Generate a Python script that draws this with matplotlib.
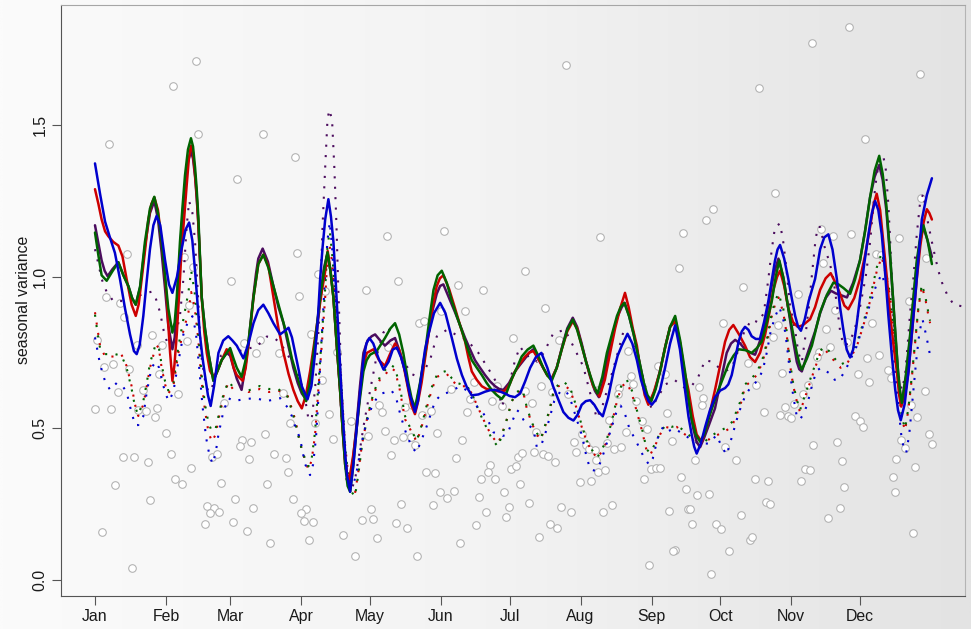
import numpy as np
import matplotlib
matplotlib.use("Agg")
import matplotlib.pyplot as plt
from matplotlib.colors import LinearSegmentedColormap

plt.rcParams['font.family'] = ['Liberation Sans', 'DejaVu Sans']

# ---------------------------------------------------------------- axis labels
MONTH_LABELS = ["Jan", "Feb", "Mar", "Apr", "May", "Jun",
                "Jul", "Aug", "Sep", "Oct", "Nov", "Dec"]
MONTH_START = [0, 31, 59, 90, 120, 151, 181, 212, 243, 273, 304, 334]
Y_TICKS = [0.0, 0.5, 1.0, 1.5]
Y_LABEL = "seasonal variance"

# ---------------------------------------------------------------- daily observations
OBS_DAY = [
    44.1, 34.1, 6.0, 45.1, 13.8, 39.0, 42.9, 41.1, 4.9, 10.9, 12.8, 0.7, 25.0, 40.3, 29.4,
    18.5, 3.9, 8.0, 14.8, 27.9, 10.0, 20.8, 36.1, 0.0, 7.0, 18.9, 22.3, 27.1, 26.1, 56.2,
    31.0, 33.0, 51.1, 53.3, 12.1, 17.0, 23.0, 42.1, 35.0, 38.0, 55.0, 8.9, 24.0, 49.1,
    52.1, 50.2, 54.2, 48.1, 2.9, 16.0,
    73.2, 87.3, 62.2, 88.2, 59.4, 89.2, 118.3, 97.2, 100.4, 94.2, 65.2, 72.2, 70.2, 80.2,
    105.8, 99.3, 82.2, 85.3, 96.2, 102.3, 74.2, 111.6, 104.1, 119.3, 64.2, 68.1, 63.2,
    78.2, 83.3, 67.2, 84.2, 75.1, 61.1, 69.1, 86.3, 92.2, 90.1, 91.3, 95.2, 60.3, 66.2,
    76.3, 93.3, 108.3, 120.4, 116.5, 121.2, 113.4, 123.3,
    152.4, 127.4, 132.3, 158.5, 169.4, 187.8, 141.3, 143.5, 161.4, 151.1, 182.4, 127.8,
    124.0, 125.3, 155.5, 165.5, 163.8, 162.5, 175.7, 173.5, 177.7, 146.7, 142.6, 135.2,
    138.4, 126.5, 130.6, 134.5, 138.0, 139.5, 149.3, 160.4, 129.4, 157.5, 144.4, 148.4,
    172.5, 171.5, 174.6, 168.6, 150.6, 153.6, 156.6, 147.4, 167.7, 178.5, 181.5, 183.7,
    184.6, 186.5, 185.5, 133.5, 170.6, 180.6, 179.5, 131.3, 136.4, 166.4, 159.5, 140.5,
    205.5, 220.7, 196.5, 202.8, 232.7, 245.7, 249.0, 194.6, 187.8, 190.7, 199.7, 206.7,
    219.4, 229.0, 234.0, 235.1, 228.2, 224.4, 236.2, 238.7, 240.9, 192.4, 209.0, 212.8,
    209.8, 214.4, 215.6, 218.1, 218.9, 223.4, 226.8, 229.7, 231.9, 191.7, 195.5, 197.8,
    200.7, 239.6, 242.8, 244.9, 246.9, 219.6, 222.7, 211.7, 216.6, 189.5, 203.6, 207.7,
    221.7, 225.8, 198.5, 201.6, 193.7, 241.8,
    313.0, 289.9, 296.9, 269.9, 266.8, 256.9, 254.9, 282.8, 307.1, 274.0, 298.1, 295.9,
    263.9, 265.6, 264.9, 285.1, 288.7, 299.8, 249.9, 292.2, 299.0, 301.3, 302.6, 304.0,
    305.3, 309.2, 311.2, 251.8, 275.2, 279.8, 313.7, 261.9, 255.8, 258.0, 262.9, 268.0,
    288.1, 294.0, 308.2, 310.2, 312.0, 292.8, 294.9, 250.8, 259.0, 259.8, 281.9, 260.8,
    271.1, 273.2, 286.0, 287.0, 253.4, 252.5, 277.0, 269.0,
    329.1, 360.1, 336.1, 360.8, 351.1, 330.0, 317.0, 322.3, 362.9, 341.1, 343.1, 318.0,
    323.1, 355.3, 319.1, 339.1, 328.2, 321.1, 316.0, 315.1, 342.2, 337.2, 333.3, 338.0,
    346.2, 347.4, 362.3, 356.1, 359.1, 331.9, 333.9, 335.2, 364.2, 365.4, 324.1, 352.1,
    353.7, 349.9, 326.2, 358.1, 348.2, 349.2, 327.2, 325.3, 320.2, 357.1,
]
OBS_VAL = [
    1.711, 1.628, 1.437, 1.472, 1.076, 1.064, 1.032, 0.908, 0.932, 0.914, 0.868, 0.792, 0.808, 0.788, 0.776,
    0.776, 0.704, 0.712, 0.697, 0.680, 0.621, 0.627, 0.615, 0.565, 0.564, 0.562, 0.556, 0.568, 0.537, 0.584,
    0.484, 0.417, 0.407, 0.417, 0.407, 0.406, 0.388, 0.368, 0.334, 0.317, 0.319, 0.314, 0.264, 0.245,
    0.236, 0.222, 0.224, 0.185, 0.158, 0.041,
    1.472, 1.394, 1.323, 1.078, 0.987, 0.938, 0.955, 1.010, 0.953, 0.810, 0.783, 0.792, 0.749, 0.749,
    0.752, 0.658, 0.617, 0.517, 0.517, 0.548, 0.480, 0.526, 0.466, 0.474, 0.462, 0.456, 0.441,
    0.417, 0.404, 0.399, 0.356, 0.318, 0.267, 0.239, 0.267, 0.233, 0.220, 0.196, 0.190, 0.192, 0.162,
    0.123, 0.133, 0.148, 0.233, 0.197, 0.200, 0.080, 0.139,
    1.152, 1.135, 0.986, 0.973, 0.958, 1.020, 0.847, 0.853, 0.888, 0.887, 0.798, 0.767,
    0.578, 0.554, 0.630, 0.654, 0.598, 0.554, 0.639, 0.590, 0.573, 0.556, 0.544, 0.570,
    0.576, 0.493, 0.462, 0.470, 0.473, 0.444, 0.485, 0.462, 0.413, 0.401, 0.356, 0.352,
    0.380, 0.356, 0.334, 0.333, 0.289, 0.272, 0.295, 0.246, 0.274, 0.289, 0.365, 0.377,
    0.405, 0.420, 0.316, 0.252, 0.225, 0.241, 0.209, 0.189, 0.173, 0.183, 0.122, 0.080,
    1.697, 1.132, 0.897, 0.793, 0.756, 0.705, 0.680, 0.639, 0.623, 0.584, 0.621, 0.612,
    0.627, 0.633, 0.673, 0.645, 0.612, 0.529, 0.590, 0.523, 0.499, 0.487, 0.455, 0.480,
    0.423, 0.444, 0.432, 0.429, 0.395, 0.452, 0.432, 0.438, 0.489, 0.422, 0.417, 0.410,
    0.389, 0.334, 0.365, 0.371, 0.371, 0.356, 0.363, 0.322, 0.325, 0.253, 0.241, 0.225,
    0.223, 0.246, 0.184, 0.172, 0.142, 0.051,
    1.771, 1.622, 1.275, 1.225, 1.187, 1.146, 1.030, 0.968, 0.942, 0.849, 0.841, 0.800,
    0.636, 0.600, 0.576, 0.716, 0.642, 0.684, 0.550, 0.554, 0.544, 0.572, 0.542, 0.535,
    0.581, 0.612, 0.642, 0.458, 0.440, 0.397, 0.446, 0.395, 0.341, 0.300, 0.279, 0.285,
    0.334, 0.325, 0.328, 0.367, 0.362, 0.258, 0.251, 0.228, 0.234, 0.234, 0.216, 0.184,
    0.186, 0.167, 0.132, 0.141, 0.100, 0.096, 0.096, 0.019,
    1.824, 1.670, 1.455, 1.261, 1.128, 1.140, 1.157, 1.135, 1.063, 1.076, 1.073, 1.045,
    0.892, 0.920, 0.827, 0.849, 0.786, 0.767, 0.753, 0.734, 0.741, 0.733, 0.680, 0.654,
    0.692, 0.666, 0.625, 0.578, 0.539, 0.540, 0.523, 0.505, 0.482, 0.449, 0.456, 0.461,
    0.435, 0.400, 0.391, 0.374, 0.339, 0.291, 0.306, 0.236, 0.203, 0.156,
]

# ---------------------------------------------------------------- smooth estimates (solid)
BLUE_DAY = [0, 2.2, 4.4, 6.6, 8.7, 10.9, 13.1, 15.3, 17.0, 18.2, 19.5, 21.1, 22.5, 24.0, 25.5,
            26.9, 28.5, 30.6, 32.3, 33.8, 35.8, 37.8, 39.5, 41.1, 42.5, 43.7, 44.8, 45.8, 47.0,
            48.0, 49.3, 50.5, 52.0, 53.9, 56.0, 58.2, 60.0, 61.9, 64.8, 67.0, 69.2, 71.3, 73.5,
            75.7, 77.9, 80.8, 82.6, 84.5, 86.0, 87.4, 89.0, 90.3, 92.8, 94.5, 96.1, 97.3, 98.3,
            99.4, 100.5, 101.9, 103.0, 104.1, 105.2, 106.3, 107.4, 108.5, 109.3, 110.0, 111.4,
            112.8, 114.3, 115.7, 117.2, 118.5, 119.8, 121.5, 123.8, 126.0, 128.2, 130.0, 131.8,
            133.6, 135.4, 137.5, 139.7, 141.0, 142.6, 144.1, 145.6, 148.0, 150.7, 153.0, 155.8,
            158.0, 160.2, 162.4, 164.5, 167.4, 170.3, 172.5, 174.7, 177.0, 179.0, 181.0, 183.4,
            185.6, 187.8, 190.0, 192.5, 194.9, 197.5, 200.0, 202.3, 204.5, 206.7, 208.9, 210.7,
            212.5, 214.3, 216.2, 218.0, 219.8, 221.7, 224.0, 226.4, 228.2, 230.0, 232.5, 234.6,
            236.6, 238.4, 240.2, 241.7, 243.1, 244.9, 246.7, 248.9, 251.1, 253.3, 255.4, 257.6,
            259.1, 260.5, 261.6, 262.7, 264.5, 266.4, 268.5, 270.7, 273.0, 275.1, 276.5, 278.0,
            279.5, 281.0, 282.4, 283.8, 285.3, 286.7, 288.5, 290.3, 292.1, 294.0, 295.5, 296.9,
            298.0, 299.1, 300.9, 302.7, 304.2, 305.7, 307.0, 308.2, 309.9, 311.6, 314.4, 316.6,
            318.4, 320.2, 322.0, 323.9, 325.3, 326.8, 328.2, 329.7, 331.0, 332.5, 334.0, 335.8,
            337.7, 339.2, 340.6, 342.0, 343.5, 345.0, 346.4, 347.9, 349.4, 350.6, 351.8, 353.5,
            355.2, 356.6, 358.1, 359.5, 361.0, 363.2, 365.4]
BLUE_VAL = [1.374, 1.274, 1.182, 1.128, 1.079, 0.993, 0.896, 0.810, 0.755, 0.745, 0.775, 0.871,
            0.980, 1.091, 1.170, 1.201, 1.170, 1.054, 0.975, 0.947, 1.000, 1.091, 1.155, 1.179,
            1.120, 1.018, 0.910, 0.810, 0.730, 0.676, 0.610, 0.574, 0.640, 0.749, 0.790, 0.804,
            0.790, 0.773, 0.731, 0.780, 0.847, 0.890, 0.908, 0.880, 0.847, 0.810, 0.820, 0.832,
            0.800, 0.749, 0.690, 0.639, 0.596, 0.640, 0.749, 0.860, 0.993, 1.100, 1.189, 1.256,
            1.200, 1.116, 0.970, 0.810, 0.650, 0.505, 0.410, 0.346, 0.291, 0.380, 0.505, 0.620,
            0.725, 0.780, 0.798, 0.780, 0.731, 0.694, 0.720, 0.760, 0.767, 0.735, 0.688, 0.610,
            0.554, 0.590, 0.680, 0.760, 0.810, 0.880, 0.914, 0.880, 0.798, 0.730, 0.676, 0.635,
            0.609, 0.612, 0.621, 0.626, 0.627, 0.621, 0.615, 0.607, 0.603, 0.615, 0.655, 0.700,
            0.735, 0.749, 0.700, 0.639, 0.595, 0.554, 0.535, 0.526, 0.545, 0.578, 0.590, 0.593,
            0.578, 0.555, 0.540, 0.600, 0.688, 0.740, 0.773, 0.812, 0.780, 0.725, 0.660, 0.615,
            0.590, 0.578, 0.595, 0.627, 0.700, 0.780, 0.840, 0.760, 0.627, 0.540, 0.480, 0.440,
            0.417, 0.450, 0.505, 0.560, 0.603, 0.625, 0.633, 0.645, 0.676, 0.730, 0.786, 0.820,
            0.835, 0.825, 0.804, 0.795, 0.795, 0.850, 0.920, 0.990, 1.054, 1.090, 1.105, 1.060,
            0.993, 0.930, 0.871, 0.835, 0.822, 0.860, 0.920, 0.993, 1.091, 1.130, 1.140, 1.090,
            0.993, 0.900, 0.822, 0.760, 0.734, 0.760, 0.840, 0.932, 1.040, 1.140, 1.210, 1.250,
            1.220, 1.140, 1.010, 0.871, 0.740, 0.627, 0.560, 0.527, 0.580, 0.688, 0.810, 0.932,
            1.060, 1.189, 1.270, 1.325]

RED_DAY = [0, 1.5, 2.9, 4.4, 5.8, 8.0, 10.2, 12.0, 13.8, 16.0, 17.8, 19.1, 20.4, 21.9, 23.3,
           24.6, 25.9, 27.5, 29.1, 30.2, 31.3, 32.1, 32.8, 33.8, 34.7, 35.7, 36.8, 37.8, 39.0,
           40.0, 41.0, 41.9, 42.8, 43.7, 44.4, 45.1, 45.9, 46.6, 47.7, 48.8, 50.2, 51.7, 53.5,
           55.3, 57.5, 59.0, 60.5, 61.9, 64.5, 65.8, 67.0, 68.1, 69.2, 70.3, 71.3, 73.5, 75.7,
           77.9, 80.1, 82.3, 84.5, 86.6, 88.5, 90.3, 92.1, 93.9, 95.7, 97.5, 99.0, 100.5, 101.6,
           102.8, 104.1, 105.5, 107.0, 108.1, 109.2, 110.2, 111.1, 112.7, 114.3, 115.4, 116.5,
           117.6, 118.7, 121.6, 124.0, 126.6, 128.8, 131.0, 132.8, 134.6, 136.8, 138.2, 139.7,
           141.1, 142.6, 144.1, 145.6, 147.4, 149.2, 150.6, 152.1, 154.6, 157.2, 159.4, 161.6,
           163.0, 164.5, 166.7, 168.9, 171.0, 173.2, 175.4, 177.6, 179.0, 181.0, 183.4, 185.6,
           187.8, 189.6, 191.4, 193.5, 195.7, 197.5, 199.4, 201.6, 203.8, 206.2, 208.6, 210.5,
           212.6, 214.7, 217.5, 220.3, 222.6, 224.9, 227.1, 229.3, 231.4, 233.0, 234.8, 236.6,
           238.3, 240.0, 241.6, 244.0, 246.7, 249.0, 251.1, 253.3, 255.5, 257.3, 259.1, 261.0,
           262.7, 264.9, 266.8, 268.7, 270.7, 273.0, 275.1, 276.9, 278.7, 281.2, 283.8, 286.0,
           288.2, 290.4, 292.6, 294.4, 296.2, 297.8, 299.1, 300.9, 302.7, 304.8, 306.8, 309.0,
           312.2, 314.4, 316.6, 319.0, 321.2, 323.3, 325.3, 327.2, 328.9, 331.5, 334.0, 336.2,
           338.4, 340.0, 341.3, 342.8, 344.2, 345.7, 347.2, 348.7, 350.1, 351.1, 352.0, 353.6,
           355.2, 357.0, 358.8, 360.3, 361.8, 363.2, 364.3, 365.4]
RED_VAL = [1.289, 1.240, 1.189, 1.150, 1.134, 1.115, 1.103, 1.067, 0.993, 0.908, 0.871, 0.910,
           0.993, 1.090, 1.189, 1.240, 1.262, 1.220, 1.115, 1.030, 0.932, 0.830, 0.749, 0.657,
           0.710, 0.810, 0.950, 1.091, 1.200, 1.299, 1.390, 1.433, 1.410, 1.335, 1.270, 1.176,
           1.050, 0.932, 0.820, 0.749, 0.690, 0.670, 0.690, 0.725, 0.761, 0.749, 0.700, 0.676,
           0.657, 0.700, 0.773, 0.850, 0.932, 0.990, 1.042, 1.073, 1.036, 0.932, 0.830, 0.749,
           0.680, 0.627, 0.590, 0.566, 0.610, 0.688, 0.780, 0.871, 0.950, 1.018, 1.085, 1.020,
           0.932, 0.780, 0.627, 0.500, 0.382, 0.345, 0.334, 0.410, 0.505, 0.590, 0.676, 0.720,
           0.749, 0.761, 0.725, 0.706, 0.745, 0.780, 0.760, 0.712, 0.627, 0.575, 0.547, 0.590,
           0.651, 0.730, 0.810, 0.900, 0.969, 0.995, 1.005, 0.960, 0.896, 0.840, 0.786, 0.735,
           0.688, 0.660, 0.639, 0.630, 0.627, 0.623, 0.621, 0.625, 0.645, 0.688, 0.715, 0.737,
           0.750, 0.755, 0.730, 0.700, 0.675, 0.664, 0.700, 0.761, 0.820, 0.853, 0.830, 0.770,
           0.712, 0.640, 0.605, 0.660, 0.749, 0.830, 0.896, 0.947, 0.900, 0.830, 0.773, 0.680,
           0.610, 0.578, 0.620, 0.688, 0.770, 0.835, 0.853, 0.780, 0.690, 0.627, 0.540, 0.480,
           0.456, 0.500, 0.560, 0.627, 0.710, 0.786, 0.825, 0.841, 0.810, 0.773, 0.735, 0.719,
           0.750, 0.810, 0.880, 0.957, 1.000, 1.020, 0.970, 0.896, 0.850, 0.835, 0.840, 0.860,
           0.900, 0.957, 0.995, 1.012, 0.980, 0.944, 0.905, 0.893, 0.930, 0.993, 1.070, 1.164,
           1.240, 1.274, 1.220, 1.115, 1.000, 0.871, 0.770, 0.688, 0.610, 0.572, 0.610, 0.688,
           0.840, 0.993, 1.100, 1.180, 1.223, 1.210, 1.189]

GREEN_DAY = [0, 1.5, 2.9, 5.1, 7.6, 10.2, 12.4, 14.6, 16.2, 17.8, 19.7, 21.8, 24.0, 25.9, 27.5,
             29.1, 30.6, 32.0, 33.8, 34.8, 35.7, 37.1, 38.2, 39.3, 40.6, 41.9, 42.8, 43.7, 44.4,
             45.1, 45.9, 46.6, 48.0, 49.5, 51.7, 53.5, 55.3, 57.5, 59.0, 60.5, 61.9, 64.0, 65.6,
             67.0, 68.1, 69.2, 70.3, 71.3, 73.5, 75.7, 77.9, 80.8, 83.7, 86.0, 88.1, 90.2, 92.2,
             93.8, 95.4, 96.9, 98.3, 100.0, 101.5, 102.8, 104.1, 105.5, 107.0, 108.1, 109.2, 110.3,
             111.4, 112.8, 114.3, 115.7, 117.2, 118.6, 120.1, 123.0, 126.6, 129.0, 131.0, 132.8,
             134.6, 136.8, 138.2, 139.7, 141.9, 144.1, 146.0, 147.8, 149.6, 151.4, 153.6, 155.8,
             158.0, 160.2, 162.4, 164.5, 166.7, 168.9, 171.0, 173.2, 175.4, 177.6, 179.8, 182.0,
             184.2, 186.3, 188.9, 191.4, 193.5, 195.7, 197.5, 199.4, 201.6, 203.8, 206.2, 208.6,
             210.5, 212.5, 214.4, 216.2, 217.8, 219.4, 221.5, 223.5, 225.7, 227.9, 229.5, 231.1,
             233.2, 235.2, 237.4, 239.6, 241.2, 242.9, 244.8, 246.7, 249.0, 251.1, 253.3, 255.5,
             257.6, 259.1, 260.5, 262.3, 264.2, 266.0, 267.8, 270.0, 272.2, 274.4, 276.6, 278.8,
             281.0, 284.0, 286.7, 289.0, 291.1, 293.3, 295.5, 297.2, 298.8, 300.7, 302.7, 304.6,
             306.4, 307.5, 308.6, 310.8, 313.0, 316.6, 319.5, 322.4, 324.6, 326.8, 329.7, 331.8,
             334.0, 336.2, 338.4, 340.4, 342.4, 343.9, 345.5, 347.0, 348.4, 349.5, 350.6, 351.5,
             352.3, 354.1, 355.9, 357.3, 358.8, 360.3, 361.7, 363.5, 365.4]
GREEN_VAL = [1.146, 1.070, 1.005, 0.987, 1.018, 1.048, 1.005, 0.969, 0.930, 0.908, 0.969, 1.115,
             1.225, 1.264, 1.210, 1.115, 1.000, 0.896, 0.816, 0.850, 0.932, 1.115, 1.230, 1.335,
             1.420, 1.457, 1.430, 1.360, 1.290, 1.201, 1.060, 0.932, 0.830, 0.749, 0.657, 0.690,
             0.725, 0.749, 0.765, 0.730, 0.700, 0.670, 0.720, 0.786, 0.860, 0.932, 0.990, 1.042,
             1.073, 1.030, 0.969, 0.890, 0.810, 0.730, 0.676, 0.625, 0.590, 0.650, 0.749, 0.840,
             0.932, 1.020, 1.081, 1.020, 0.932, 0.780, 0.627, 0.500, 0.382, 0.310, 0.291, 0.380,
             0.505, 0.600, 0.688, 0.725, 0.743, 0.755, 0.798, 0.830, 0.847, 0.810, 0.749, 0.651,
             0.600, 0.566, 0.650, 0.749, 0.860, 0.957, 1.005, 1.020, 0.980, 0.920, 0.870, 0.822,
             0.770, 0.725, 0.700, 0.676, 0.650, 0.627, 0.610, 0.597, 0.620, 0.664, 0.700, 0.737,
             0.760, 0.773, 0.740, 0.700, 0.675, 0.657, 0.700, 0.761, 0.825, 0.859, 0.825, 0.773,
             0.720, 0.676, 0.640, 0.615, 0.670, 0.749, 0.810, 0.871, 0.900, 0.914, 0.870, 0.810,
             0.730, 0.651, 0.610, 0.590, 0.630, 0.688, 0.770, 0.835, 0.871, 0.790, 0.688, 0.600,
             0.529, 0.480, 0.456, 0.480, 0.529, 0.580, 0.627, 0.670, 0.712, 0.740, 0.761, 0.758,
             0.749, 0.765, 0.786, 0.850, 0.920, 1.000, 1.054, 0.990, 0.896, 0.820, 0.749, 0.715,
             0.694, 0.730, 0.773, 0.883, 0.940, 0.981, 0.975, 0.963, 0.944, 0.990, 1.054, 1.150,
             1.262, 1.350, 1.399, 1.340, 1.237, 1.090, 0.932, 0.810, 0.688, 0.620, 0.584, 0.680,
             0.810, 0.930, 1.054, 1.130, 1.170, 1.120, 1.042]

PURPLE_DAY = [0, 1.5, 2.9, 4.2, 5.5, 7.6, 10.2, 12.4, 14.6, 16.2, 17.8, 19.7, 21.8, 24.0, 25.9,
              27.5, 29.1, 30.6, 32.0, 33.8, 34.8, 35.7, 37.1, 38.2, 39.3, 40.6, 41.9, 42.8, 43.7,
              44.4, 45.1, 45.9, 46.6, 48.0, 49.5, 51.7, 53.5, 55.3, 57.5, 59.0, 60.5, 61.9, 64.0,
              65.6, 67.0, 68.1, 69.2, 70.3, 71.3, 73.2, 75.5, 77.9, 80.1, 82.3, 84.5, 86.6, 88.5,
              90.3, 92.2, 94.5, 96.8, 98.3, 100.0, 101.5, 102.8, 104.1, 105.5, 107.0, 108.1, 109.2,
              110.2, 111.1, 112.7, 114.3, 115.7, 117.2, 119.0, 120.8, 122.3, 124.5, 126.6, 129.0,
              131.0, 133.2, 135.4, 137.5, 139.7, 141.6, 143.6, 145.6, 147.4, 149.2, 150.7, 152.1,
              154.6, 157.2, 159.4, 161.6, 163.8, 165.9, 168.1, 170.3, 172.5, 174.7, 176.5, 178.3,
              180.8, 183.4, 185.6, 187.8, 189.6, 191.4, 193.5, 195.7, 197.5, 199.4, 201.6, 203.8,
              206.2, 208.6, 210.5, 212.5, 214.4, 216.2, 218.2, 220.0, 222.0, 224.0, 226.0, 228.2,
              230.0, 231.3, 233.2, 235.2, 237.4, 239.6, 241.0, 242.4, 244.6, 246.7, 249.0, 251.1,
              253.3, 255.5, 257.6, 259.4, 261.2, 262.7, 264.2, 266.0, 268.0, 270.7, 273.3, 275.8,
              277.7, 279.5, 281.7, 283.8, 286.0, 288.2, 290.4, 292.6, 294.5, 296.4, 298.4, 300.5,
              302.7, 304.6, 306.4, 307.5, 308.6, 310.8, 312.6, 314.4, 316.6, 319.0, 321.3, 323.5,
              325.5, 328.3, 331.0, 334.0, 336.2, 338.4, 340.4, 342.4, 343.9, 345.5, 347.0, 348.4,
              349.5, 350.6, 351.5, 352.3, 354.1, 355.9, 357.3, 358.8, 360.3, 361.7, 363.5, 365.4]
PURPLE_VAL = [1.170, 1.110, 1.054, 1.020, 1.002, 1.025, 1.048, 1.005, 0.969, 0.930, 0.908, 0.965,
              1.100, 1.210, 1.250, 1.190, 1.080, 0.960, 0.840, 0.761, 0.800, 0.900, 1.080, 1.200,
              1.300, 1.380, 1.414, 1.390, 1.330, 1.260, 1.180, 1.050, 0.932, 0.830, 0.749, 0.657,
              0.690, 0.725, 0.749, 0.740, 0.700, 0.664, 0.627, 0.700, 0.780, 0.860, 0.940, 1.010,
              1.060, 1.093, 1.050, 0.969, 0.900, 0.847, 0.770, 0.700, 0.650, 0.615, 0.596, 0.680,
              0.810, 0.930, 1.030, 1.078, 1.020, 0.932, 0.780, 0.627, 0.500, 0.400, 0.340, 0.322,
              0.400, 0.520, 0.640, 0.749, 0.790, 0.804, 0.810, 0.790, 0.773, 0.790, 0.798, 0.750,
              0.688, 0.610, 0.560, 0.630, 0.720, 0.810, 0.890, 0.944, 0.970, 0.975, 0.930, 0.883,
              0.840, 0.798, 0.760, 0.725, 0.700, 0.676, 0.655, 0.639, 0.630, 0.627, 0.650, 0.688,
              0.710, 0.731, 0.750, 0.761, 0.730, 0.700, 0.675, 0.664, 0.700, 0.765, 0.830, 0.865,
              0.835, 0.780, 0.720, 0.670, 0.625, 0.603, 0.660, 0.740, 0.810, 0.870, 0.900, 0.914,
              0.870, 0.810, 0.730, 0.650, 0.600, 0.584, 0.630, 0.690, 0.770, 0.835, 0.861, 0.780,
              0.670, 0.580, 0.500, 0.455, 0.438, 0.470, 0.510, 0.566, 0.660, 0.749, 0.780, 0.792,
              0.780, 0.761, 0.750, 0.743, 0.790, 0.847, 0.930, 1.010, 1.060, 1.000, 0.896, 0.800,
              0.720, 0.695, 0.688, 0.740, 0.780, 0.820, 0.880, 0.930, 0.954, 0.945, 0.940, 0.932,
              0.980, 1.054, 1.150, 1.262, 1.330, 1.369, 1.320, 1.220, 1.080, 0.930, 0.800, 0.690,
              0.620, 0.584, 0.670, 0.800, 0.920, 1.040, 1.120, 1.164, 1.120, 1.066]

# ---------------------------------------------------------------- rougher estimates (dotted)
RED_DOT_DAY = [0, 1.0, 2.2, 4.4, 8.7, 11.6, 13.8, 16.0, 17.5, 18.9, 21.1, 22.6, 24.0, 26.2, 27.7,
               29.1, 30.6, 32.0, 34.2, 36.4, 38.6, 40.8, 42.0, 43.5, 45.0, 46.5, 48.0, 49.5, 51.0,
               52.7, 53.9, 56.0, 58.2, 60.5, 63.3, 67.0, 72.0, 76.0, 80.0, 84.0, 85.9, 87.4, 88.8,
               90.3, 91.7, 93.2, 94.6, 96.1, 97.5, 99.0, 100.5, 101.5, 102.5, 103.5, 105.5, 107.7,
               109.2, 110.6, 112.1, 113.5, 115.0, 116.5, 118.7, 120.8, 123.0, 125.0, 127.0, 129.0,
               131.0, 133.0, 135.4, 138.3, 140.5, 142.6, 144.8, 147.0, 149.2, 151.4, 153.6, 155.8,
               158.0, 160.2, 162.4, 164.5, 166.7, 168.9, 171.1, 173.3, 175.9, 177.6, 179.8, 182.0,
               184.2, 186.3, 187.5, 188.5, 190.7, 192.9, 194.6, 196.5, 198.7, 200.1, 202.3, 204.5,
               207.4, 210.3, 212.5, 214.7, 216.9, 219.4, 221.3, 223.5, 225.7, 227.9, 230.0, 232.2,
               234.4, 236.6, 238.8, 240.9, 242.4, 244.6, 246.7, 249.0, 251.8, 254.0, 257.6, 260.5,
               263.4, 266.0, 269.0, 272.2, 275.0, 278.0, 280.3, 282.3, 283.8, 286.7, 288.9, 291.1,
               292.6, 294.0, 295.5, 296.9, 298.4, 300.5, 302.0, 303.4, 304.9, 306.4, 307.8, 310.0,
               312.2, 314.4, 316.5, 318.5, 320.5, 323.0, 325.5, 328.0, 330.5, 333.0, 335.5, 338.4,
               341.3, 343.5, 345.5, 347.2, 349.4, 350.9, 352.3, 353.7, 355.2, 356.6, 358.1, 359.5,
               361.0, 362.4, 363.9, 364.6]
RED_DOT_VAL = [0.883, 0.834, 0.773, 0.737, 0.737, 0.743, 0.706, 0.639, 0.578, 0.541, 0.578, 0.639,
               0.700, 0.761, 0.773, 0.700, 0.645, 0.615, 0.639, 0.749, 0.822, 0.883, 0.950, 0.900,
               0.800, 0.660, 0.560, 0.490, 0.456, 0.480, 0.529, 0.603, 0.651, 0.627, 0.639, 0.620,
               0.630, 0.620, 0.625, 0.610, 0.566, 0.529, 0.480, 0.431, 0.395, 0.364, 0.395, 0.480,
               0.627, 0.773, 0.932, 1.060, 1.100, 1.050, 0.871, 0.627, 0.444, 0.346, 0.297, 0.285,
               0.358, 0.444, 0.529, 0.590, 0.639, 0.670, 0.680, 0.700, 0.690, 0.630, 0.530, 0.487,
               0.456, 0.505, 0.566, 0.627, 0.670, 0.676, 0.680, 0.657, 0.645, 0.639, 0.639, 0.615,
               0.578, 0.541, 0.505, 0.474, 0.450, 0.480, 0.529, 0.590, 0.615, 0.627, 0.603, 0.566,
               0.517, 0.480, 0.462, 0.505, 0.566, 0.615, 0.639, 0.645, 0.627, 0.566, 0.505, 0.456,
               0.425, 0.401, 0.425, 0.456, 0.517, 0.590, 0.639, 0.651, 0.615, 0.554, 0.493, 0.425,
               0.413, 0.444, 0.480, 0.505, 0.500, 0.505, 0.480, 0.465, 0.440, 0.450, 0.470, 0.480,
               0.490, 0.505, 0.548, 0.590, 0.639, 0.657, 0.676, 0.712, 0.749, 0.810, 0.871, 0.908,
               0.932, 0.883, 0.810, 0.712, 0.639, 0.590, 0.554, 0.603, 0.651, 0.700, 0.745, 0.760,
               0.745, 0.720, 0.700, 0.710, 0.740, 0.780, 0.840, 0.920, 1.018, 1.066, 1.000, 0.932,
               0.749, 0.627, 0.529, 0.493, 0.566, 0.664, 0.786, 0.896, 0.969, 0.932, 0.871, 0.847]

GREEN_DOT_DAY = RED_DOT_DAY
GREEN_DOT_VAL = [0.875, 0.820, 0.765, 0.745, 0.745, 0.740, 0.700, 0.630, 0.570, 0.545, 0.590, 0.650,
                 0.715, 0.770, 0.775, 0.710, 0.655, 0.625, 0.650, 0.770, 0.860, 0.950, 1.020, 0.950,
                 0.820, 0.680, 0.580, 0.520, 0.490, 0.500, 0.540, 0.610, 0.655, 0.635, 0.640, 0.625,
                 0.640, 0.630, 0.630, 0.605, 0.560, 0.520, 0.475, 0.430, 0.400, 0.375, 0.400, 0.490,
                 0.640, 0.800, 0.960, 1.100, 1.150, 1.080, 0.880, 0.630, 0.440, 0.340, 0.290, 0.275,
                 0.350, 0.440, 0.530, 0.595, 0.645, 0.680, 0.695, 0.710, 0.700, 0.640, 0.540, 0.490,
                 0.460, 0.510, 0.575, 0.635, 0.675, 0.685, 0.690, 0.665, 0.650, 0.645, 0.640, 0.615,
                 0.575, 0.535, 0.500, 0.465, 0.440, 0.475, 0.530, 0.590, 0.620, 0.630, 0.605, 0.570,
                 0.520, 0.485, 0.465, 0.510, 0.570, 0.620, 0.645, 0.655, 0.635, 0.570, 0.510, 0.460,
                 0.430, 0.405, 0.430, 0.465, 0.525, 0.600, 0.645, 0.660, 0.625, 0.560, 0.500, 0.430,
                 0.420, 0.450, 0.485, 0.510, 0.505, 0.510, 0.490, 0.470, 0.450, 0.455, 0.475, 0.490,
                 0.500, 0.520, 0.560, 0.600, 0.645, 0.665, 0.685, 0.720, 0.760, 0.820, 0.880, 0.920,
                 0.945, 0.895, 0.820, 0.720, 0.645, 0.595, 0.560, 0.610, 0.660, 0.710, 0.755, 0.770,
                 0.755, 0.730, 0.710, 0.720, 0.750, 0.790, 0.850, 0.930, 1.030, 1.080, 1.010, 0.940,
                 0.760, 0.635, 0.535, 0.500, 0.570, 0.670, 0.790, 0.900, 0.975, 0.940, 0.880, 0.855]

BLUE_DOT_DAY = [0, 1.0, 2.2, 4.4, 6.6, 9.5, 12.0, 13.8, 15.3, 17.5, 18.9, 21.1, 22.6, 24.7, 26.5,
                28.0, 29.5, 31.0, 32.3, 34.2, 36.4, 38.6, 40.5, 42.5, 44.0, 45.5, 47.0, 48.5, 50.0,
                51.4, 52.7, 53.9, 56.0, 58.2, 60.5, 64.8, 70.0, 75.0, 80.8, 84.0, 86.0, 87.7, 89.5,
                91.7, 93.9, 95.2, 96.5, 97.7, 99.0, 100.3, 101.5, 102.5, 103.5, 105.0, 106.5, 108.0,
                109.5, 111.0, 113.1, 114.6, 116.3, 118.5, 120.8, 123.0, 125.0, 127.5, 129.5, 131.5,
                133.5, 136.0, 138.3, 140.3, 142.5, 144.5, 146.3, 148.5, 151.0, 155.0, 159.4, 162.4,
                164.5, 167.0, 169.5, 171.8, 174.0, 176.3, 178.0, 180.0, 182.0, 184.2, 186.0, 187.0,
                189.2, 191.4, 192.9, 194.6, 196.5, 198.7, 200.5, 203.0, 205.5, 207.4, 210.3, 212.5,
                214.5, 216.2, 218.5, 220.5, 222.6, 225.0, 227.5, 229.5, 231.5, 233.6, 235.5, 238.0,
                240.0, 242.0, 243.5, 245.7, 248.0, 250.0, 253.0, 256.0, 259.0, 262.0, 265.0, 268.0,
                271.4, 273.6, 275.8, 278.0, 281.0, 284.0, 286.7, 289.0, 291.5, 293.3, 295.0, 297.0,
                298.8, 300.5, 302.0, 303.5, 305.0, 306.4, 307.8, 309.5, 311.0, 313.0, 315.0, 317.0,
                319.0, 321.0, 323.0, 325.0, 327.5, 330.0, 332.5, 335.0, 338.0, 341.0, 343.5, 345.5,
                347.2, 349.0, 350.5, 352.0, 353.2, 354.2, 355.5, 357.0, 358.5, 360.0, 361.3, 362.5,
                363.9, 364.6]
BLUE_DOT_VAL = [0.800, 0.760, 0.712, 0.655, 0.627, 0.650, 0.640, 0.620, 0.572, 0.511, 0.511, 0.540,
                0.620, 0.700, 0.720, 0.700, 0.650, 0.610, 0.590, 0.620, 0.720, 0.810, 0.850, 0.870,
                0.820, 0.700, 0.570, 0.470, 0.410, 0.383, 0.420, 0.480, 0.554, 0.600, 0.590, 0.596,
                0.600, 0.590, 0.600, 0.570, 0.540, 0.500, 0.468, 0.383, 0.346, 0.380, 0.470, 0.620,
                0.800, 0.980, 1.120, 1.180, 1.100, 0.900, 0.680, 0.500, 0.380, 0.330, 0.322, 0.370,
                0.450, 0.520, 0.570, 0.600, 0.615, 0.620, 0.625, 0.600, 0.540, 0.480, 0.440, 0.420,
                0.460, 0.500, 0.540, 0.590, 0.610, 0.621, 0.639, 0.625, 0.600, 0.570, 0.550, 0.523,
                0.487, 0.480, 0.475, 0.480, 0.520, 0.560, 0.550, 0.529, 0.510, 0.499, 0.438, 0.440,
                0.480, 0.540, 0.590, 0.620, 0.625, 0.600, 0.530, 0.480, 0.410, 0.365, 0.360, 0.385,
                0.430, 0.490, 0.550, 0.575, 0.545, 0.493, 0.470, 0.430, 0.400, 0.380, 0.400, 0.468,
                0.505, 0.490, 0.500, 0.485, 0.470, 0.455, 0.450, 0.450, 0.478, 0.440, 0.413, 0.470,
                0.550, 0.610, 0.640, 0.655, 0.690, 0.750, 0.820, 0.870, 0.900, 0.860, 0.780, 0.680,
                0.600, 0.540, 0.529, 0.550, 0.580, 0.640, 0.690, 0.700, 0.690, 0.680, 0.660, 0.660,
                0.690, 0.730, 0.770, 0.830, 0.900, 0.970, 1.010, 0.960, 0.880, 0.720, 0.590, 0.480,
                0.430, 0.420, 0.480, 0.600, 0.720, 0.820, 0.860, 0.820, 0.770, 0.740]

PURPLE_DOT_DAY = [0, 1.5, 2.9, 5.1, 8.0, 12.0, 15.5, 20.0, 24.7, 26.5, 28.4, 30.0, 31.4, 33.2, 34.9,
                  37.1, 38.6, 40.0, 41.1, 42.5, 43.7, 44.4, 45.1, 45.8, 46.6, 48.0, 49.5, 51.0, 53.0,
                  55.0, 58.0, 60.4, 65.0, 70.6, 75.0, 78.0, 80.8, 83.7, 86.5, 89.5, 91.7, 93.2, 94.6,
                  96.1, 97.5, 98.6, 99.4, 100.5, 101.5, 102.3, 103.5, 104.5, 105.4, 106.1, 106.9, 107.6,
                  108.7, 109.9, 111.6, 113.5, 115.5, 117.2, 119.0, 121.0, 123.0, 125.9, 128.2, 129.5,
                  132.0, 135.0, 138.0, 142.0, 146.3, 149.2, 153.6, 157.9, 162.3, 167.4, 171.5, 175.4,
                  177.6, 180.0, 183.4, 185.6, 188.5, 190.0, 193.0, 196.0, 200.1, 205.2, 208.9, 213.2,
                  216.2, 219.1, 221.8, 224.9, 227.8, 230.7, 233.5, 236.5, 239.5, 242.9, 245.5, 249.0,
                  253.0, 257.6, 260.5, 263.4, 266.4, 269.3, 272.5, 275.5, 278.0, 280.5, 283.5, 286.7,
                  289.5, 292.0, 294.0, 295.5, 296.9, 299.1, 300.5, 302.0, 303.4, 305.7, 307.1, 308.6,
                  310.1, 311.6, 313.0, 314.4, 315.5, 316.6, 318.5, 320.9, 322.4, 323.9, 325.3, 326.8,
                  329.0, 331.5, 334.0, 336.5, 338.5, 340.0, 341.3, 342.8, 344.2, 345.2, 346.4, 347.2,
                  347.9, 348.6, 349.7, 350.8, 352.3, 353.7, 354.8, 355.9, 357.3, 358.8, 360.3, 361.7,
                  363.1, 365.4, 366.8, 368.3, 369.8, 371.9, 374.9, 379.2, 382.0]
PURPLE_DOT_VAL = [1.091, 1.042, 0.993, 0.950, 0.920, 0.920, 0.937, 0.940, 0.951, 0.930, 0.883, 0.822,
                  0.786, 0.773, 0.798, 0.871, 0.993, 1.164, 1.250, 1.213, 1.115, 1.018, 0.920, 0.810,
                  0.730, 0.660, 0.620, 0.630, 0.700, 0.740, 0.750, 0.749, 0.760, 0.770, 0.803, 0.800,
                  0.782, 0.749, 0.710, 0.667, 0.600, 0.530, 0.530, 0.630, 0.810, 0.993, 1.176, 1.360,
                  1.518, 1.551, 1.518, 1.360, 1.176, 0.993, 0.810, 0.627, 0.444, 0.322, 0.290, 0.330,
                  0.420, 0.505, 0.580, 0.660, 0.740, 0.816, 0.835, 0.792, 0.760, 0.720, 0.680, 0.667,
                  0.726, 0.803, 0.825, 0.808, 0.792, 0.749, 0.700, 0.650, 0.572, 0.620, 0.725, 0.770,
                  0.737, 0.740, 0.720, 0.750, 0.814, 0.825, 0.770, 0.704, 0.616, 0.533, 0.580, 0.660,
                  0.737, 0.819, 0.800, 0.748, 0.660, 0.566, 0.600, 0.645, 0.660, 0.633, 0.640, 0.670,
                  0.725, 0.720, 0.700, 0.690, 0.700, 0.750, 0.820, 0.859, 0.850, 0.880, 0.993, 1.091,
                  1.164, 1.176, 1.115, 1.018, 0.908, 0.822, 0.749, 0.718, 0.800, 0.896, 1.005, 1.109,
                  1.165, 1.164, 1.100, 1.042, 0.993, 0.908, 0.822, 0.773, 0.780, 0.820, 0.900, 1.000,
                  1.120, 1.250, 1.335, 1.396, 1.396, 1.360, 1.237, 1.115, 0.993, 0.871, 0.749, 0.676,
                  0.627, 0.676, 0.774, 0.883, 0.993, 1.140, 1.250, 1.274, 1.201, 1.115, 1.066, 1.018,
                  0.981, 0.944, 0.908, 0.902, 0.900]

# ---------------------------------------------------------------- styling
C_RED = "#cd0000"
C_GREEN = "#006400"
C_BLUE = "#0000cd"
C_PURPLE = "#4b0c5e"

fig = plt.figure(figsize=(9.71, 6.29), dpi=100)

# soft horizontal shading behind everything
bg = fig.add_axes([0, 0, 1, 1], zorder=-10)
shade = LinearSegmentedColormap.from_list("shade", ["#fbfbfb", "#f3f3f3", "#e3e3e3"])
ramp = np.tile(np.linspace(0.0, 1.0, 512), (4, 1))
bg.imshow(ramp, cmap=shade, aspect="auto", extent=[0, 1, 0, 1], interpolation="bilinear")
bg.set_axis_off()

ax = fig.add_axes([61 / 971, 1 - 596 / 629, (965 - 61) / 971, (596 - 5) / 629])
ax.patch.set_alpha(0.0)

ax.scatter(OBS_DAY, OBS_VAL, s=30, facecolors="white", edgecolors="#b0b0b0",
           linewidths=0.75, zorder=2)

dot_style = dict(lw=1.5, linestyle=(0, (1, 4)), dash_capstyle="butt", zorder=3)
ax.plot(PURPLE_DOT_DAY, PURPLE_DOT_VAL, color=C_PURPLE, **dot_style)
ax.plot(RED_DOT_DAY, RED_DOT_VAL, color=C_RED, **dot_style)
ax.plot(GREEN_DOT_DAY, GREEN_DOT_VAL, color=C_GREEN, **dot_style)
ax.plot(BLUE_DOT_DAY, BLUE_DOT_VAL, color=C_BLUE, **dot_style)

solid_style = dict(lw=1.8, solid_joinstyle="round", solid_capstyle="round", zorder=4)
ax.plot(PURPLE_DAY, PURPLE_VAL, color=C_PURPLE, **solid_style)
ax.plot(RED_DAY, RED_VAL, color=C_RED, **solid_style)
ax.plot(GREEN_DAY, GREEN_VAL, color=C_GREEN, **solid_style)
ax.plot(BLUE_DAY, BLUE_VAL, color=C_BLUE, **solid_style)

ax.set_xlim(-14.84, 379.85)
ax.set_ylim(-0.0528, 1.8965)

ax.set_xticks(MONTH_START)
ax.set_xticklabels(MONTH_LABELS)
ax.set_yticks(Y_TICKS)
ax.set_yticklabels([f"{v:.1f}" for v in Y_TICKS], rotation=90, va="center")

ax.tick_params(axis="both", labelsize=11.4, labelcolor="#1a1a1a", color="#555555",
               width=0.8, length=6.5)
ax.tick_params(axis="x", pad=3)
ax.tick_params(axis="y", pad=3)

for side, col in (("left", "#555555"), ("bottom", "#555555"),
                  ("top", "#a6a6a6"), ("right", "#b4b4b4")):
    ax.spines[side].set_color(col)
    ax.spines[side].set_linewidth(0.8)

fig.text(23 / 971, 1 - 300 / 629, Y_LABEL, rotation=90, ha="center", va="center",
         fontsize=11.4, color="#1a1a1a")

fig.savefig("out.png", dpi=100)
